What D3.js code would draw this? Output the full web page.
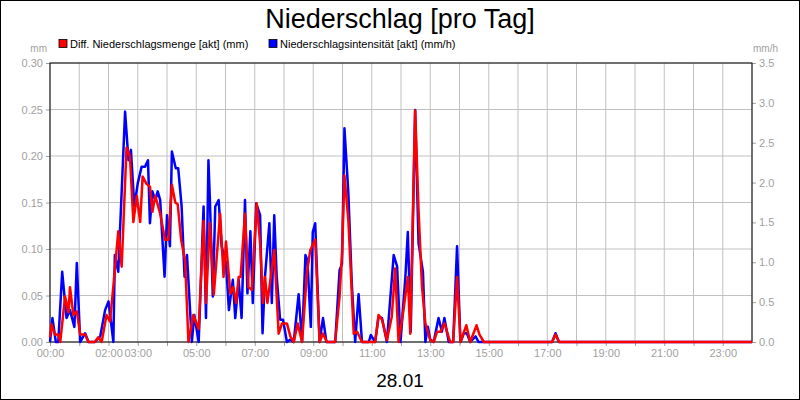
<!DOCTYPE html>
<html><head><meta charset="utf-8">
<script src="https://cdn.jsdelivr.net/npm/d3@7"></script>
<style>body{margin:0;background:#fff}svg{font-family:"Liberation Sans",Arial,sans-serif}</style>
</head><body><svg id="chart" width="800" height="400"></svg>
<script>
// [minute of day, value]
var redMm = [[0,.005],[3,.019],[10,.008],[17,.008],[21,0],[31,.049],[38,.032],[41,.059],[48,.029],[55,.033],[62,.008],[72,.008],[79,0],[92,0],[99,.005],[106,0],[116,.029],[123,.022],[130,.06],[140,.119],[147,.081],[157,.209],[164,.2],[171,.129],[178,.157],[185,.129],[190,.178],[198,.17],[205,.167],[210,.14],[216,.157],[226,.138],[236,.11],[243,.11],[250,.169],[257,.15],[262,.148],[269,.11],[277,.088],[284,0],[294,.029],[305,.014],[315,.13],[320,.042],[328,.128],[336,.051],[349,.138],[356,.07],[361,.108],[370,.052],[376,.059],[382,.042],[387,.07],[391,.07],[400,.138],[407,.059],[414,.056],[424,.149],[431,.106],[437,.042],[441,.07],[446,.042],[460,.099],[469,.009],[476,.02],[486,.02],[493,.006],[500,0],[508,.02],[517,0],[527,.074],[534,.099],[544,.11],[553,0],[560,.009],[568,0],[585,0],[594,.049],[599,.095],[604,.179],[612,.131],[623,.009],[630,.011],[640,0],[667,0],[674,.029],[681,.024],[691,.002],[701,.027],[708,.079],[715,0],[725,.034],[734,.07],[739,.009],[749,.249],[756,.142],[763,.06],[770,.02],[780,.002],[787,0],[794,.011],[801,.011],[809,.02],[821,0],[827,0],[835,.07],[842,0],[854,.018],[862,0],[875,.018],[881,.008],[890,0],[1030,0],[1037,.008],[1044,0],[1440,0]];
var blueMmh = [[0,0],[5,.30],[12,0],[17,0],[25,.88],[34,.30],[41,.40],[50,.19],[55,.99],[62,0],[72,.11],[79,0],[92,0],[103,.07],[113,.40],[120,.51],[130,0],[133,1.09],[140,.88],[154,2.89],[161,2.28],[166,2.41],[173,1.70],[180,1.99],[188,2.2],[195,2.2],[201,2.28],[205,1.49],[210,1.89],[216,1.78],[221,1.89],[226,1.78],[235,.82],[240,1.59],[246,1.20],[250,2.39],[258,2.18],[263,2.18],[270,1.70],[276,.82],[281,1.09],[291,0],[296,.34],[305,0],[315,1.70],[320,.30],[325,2.28],[328,1.78],[334,.57],[339,1.70],[346,1.78],[352,1.2],[361,.99],[367,.40],[375,.78],[380,.30],[387,.78],[393,.30],[400,1.78],[405,.61],[411,1.39],[416,.49],[423,1.74],[431,1.59],[436,.11],[441,.82],[450,1.49],[455,.49],[460,1.59],[465,.82],[472,.28],[478,.28],[486,0],[493,.03],[500,0],[510,.6],[517,0],[524,1.09],[528,1.03],[535,.19],[539,1.38],[544,1.49],[553,0],[560,.3],[567,0],[585,0],[594,.9],[599,.98],[604,2.68],[612,1.87],[619,.74],[626,0],[633,.6],[640,0],[654,0],[658,.088],[667,0],[674,.32],[681,.3],[691,0],[705,1.09],[712,.95],[719,0],[729,.82],[734,1.38],[740,.13],[749,2.91],[756,1.24],[765,.88],[770,0],[775,.19],[780,.03],[787,0],[797,.3],[804,.13],[809,.3],[818,0],[827,0],[835,1.2],[842,0],[849,.11],[855,.11],[862,0],[873,.07],[879,0],[1030,0],[1037,.11],[1044,0],[1440,0]];
var xTickLabels = ["00:00","02:00","03:00","05:00","07:00","09:00","11:00","13:00","15:00","17:00","19:00","21:00","23:00"];
var leftTicks = [0,.05,.10,.15,.20,.25,.30];
var rightTicks = [0,.5,1,1.5,2,2.5,3,3.5];

var svg = d3.select("#chart");
var L = 50, R = 752, T = 63, B = 342;
var x = d3.scaleLinear().domain([0, 1440]).range([L, R]);
var yL = d3.scaleLinear().domain([0, .3]).range([B, T]);
var yR = d3.scaleLinear().domain([0, 3.5]).range([B, T]);

svg.append("rect").attr("x", .5).attr("y", .5).attr("width", 799).attr("height", 399)
  .attr("fill", "#fff").attr("stroke", "#000");

// grid
svg.append("g").selectAll("line").data(d3.range(0, 1441, 60)).join("line")
  .attr("x1", d => x(d)).attr("x2", d => x(d)).attr("y1", T).attr("y2", B)
  .attr("stroke", "#c0c0c0");
svg.append("g").selectAll("line").data(leftTicks).join("line")
  .attr("x1", L).attr("x2", R).attr("y1", d => yL(d)).attr("y2", d => yL(d))
  .attr("stroke", "#c0c0c0");

var fmtH = m => String(Math.floor(m / 60)).padStart(2, "0") + ":00";
var xAxis = svg.append("g").attr("transform", "translate(0," + B + ")")
  .call(d3.axisBottom(x).tickValues(d3.range(0, 1440, 60)).tickSize(4)
    .tickFormat(m => xTickLabels.indexOf(fmtH(m)) >= 0 ? fmtH(m) : ""));
var yAxisL = svg.append("g").attr("transform", "translate(" + L + ",0)")
  .call(d3.axisLeft(yL).tickValues(leftTicks).tickSize(4).tickFormat(d3.format(".2f")));
var yAxisR = svg.append("g").attr("transform", "translate(" + R + ",0)")
  .call(d3.axisRight(yR).tickValues(rightTicks).tickSize(4).tickFormat(d3.format(".1f")));
[xAxis, yAxisL, yAxisR].forEach(g => {
  g.select(".domain").remove();
  g.selectAll("text").attr("fill", "#a0a0a0").style("font-size", "11px")
    .style("font-family", '"Liberation Sans",Arial,sans-serif');
  g.selectAll("line").attr("stroke", "#a0a0a0");
});
svg.append("rect").attr("x", L).attr("y", T).attr("width", R - L).attr("height", B - T)
  .attr("fill", "none").attr("stroke", "#000");

var lineR = d3.line().x(d => x(d[0])).y(d => yL(d[1]));
var lineB = d3.line().x(d => x(d[0])).y(d => yR(d[1]));
svg.append("path").datum(blueMmh).attr("d", lineB).attr("fill", "none")
  .attr("stroke", "#0000ff").attr("stroke-width", 2.5).attr("stroke-linejoin", "round");
svg.append("path").datum(redMm).attr("d", lineR).attr("fill", "none")
  .attr("stroke", "#ff0000").attr("stroke-width", 2.5).attr("stroke-linejoin", "round");

svg.append("text").attr("x", 400).attr("y", 28).attr("text-anchor", "middle")
  .style("font-size", "27px").text("Niederschlag [pro Tag]");
svg.append("text").attr("x", 400).attr("y", 387).attr("text-anchor", "middle")
  .style("font-size", "19px").text("28.01");
svg.append("text").attr("x", 47).attr("y", 52).attr("text-anchor", "end")
  .attr("fill", "#a0a0a0").style("font-size", "10px").text("mm");
svg.append("text").attr("x", 778).attr("y", 52).attr("text-anchor", "end")
  .attr("fill", "#a0a0a0").style("font-size", "10px").text("mm/h");

var legend = [["Diff. Niederschlagsmenge [akt] (mm)", "#ff0000", 59], ["Niederschlagsintensität [akt] (mm/h)", "#0000ff", 269]];
legend.forEach(l => {
  svg.append("rect").attr("x", l[2]).attr("y", 39.5).attr("width", 8).attr("height", 8)
    .attr("fill", l[1]).attr("stroke", "#000").attr("stroke-width", .8);
  svg.append("text").attr("x", l[2] + 11).attr("y", 48).style("font-size", "11px").text(l[0]);
});
</script></body></html>
